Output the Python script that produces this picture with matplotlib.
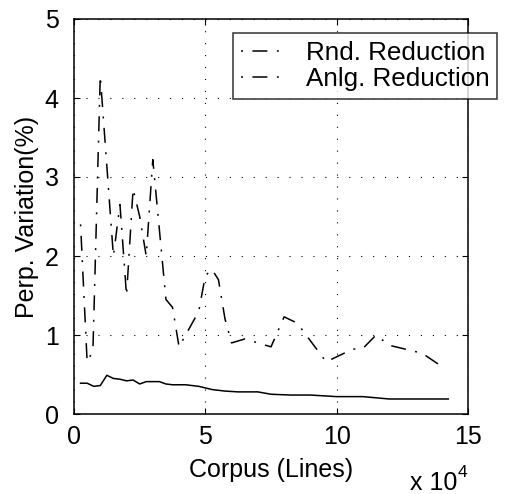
import matplotlib
matplotlib.use("Agg")
import matplotlib.pyplot as plt
from matplotlib.lines import Line2D

plt.rcParams['font.family'] = ['Liberation Sans', 'DejaVu Sans']
plt.rcParams['lines.scale_dashes'] = False

# Data (x in units of 10^4 lines)
rnd_x = [0.25, 0.5, 0.72, 1.0, 1.5, 1.75, 2.0, 2.25, 2.5, 2.75, 3.0, 3.5, 3.75, 4.0,
         4.75, 5.0, 5.25, 5.5, 5.75, 6.0, 6.5, 7.5, 8.0, 8.5, 9.6, 10.6, 11.0, 11.5,
         12.0, 13.25, 14.1]
rnd_y = [2.4, 0.66, 0.8, 4.28, 2.0, 2.65, 1.5, 2.85, 2.5, 2.0, 3.22, 1.45, 1.35, 0.85,
         1.3, 1.75, 1.83, 1.7, 1.2, 0.9, 0.95, 0.85, 1.23, 1.15, 0.66, 0.82, 0.83, 1.0,
         0.87, 0.77, 0.58]

anlg_x = [0.25, 0.5, 0.75, 1.0, 1.25, 1.5, 1.75, 2.0, 2.25, 2.5, 2.75, 3.25, 3.5, 3.75,
          4.25, 4.75, 5.25, 5.75, 6.25, 7.0, 7.5, 8.25, 9.0, 10.0, 11.0, 12.0, 13.0, 14.25]
anlg_y = [0.39, 0.39, 0.35, 0.36, 0.49, 0.45, 0.44, 0.42, 0.43, 0.38, 0.41, 0.41, 0.38,
          0.37, 0.37, 0.35, 0.31, 0.29, 0.28, 0.28, 0.25, 0.24, 0.24, 0.22, 0.22, 0.19,
          0.19, 0.19]

series_labels = ["Rnd. Reduction", "Anlg. Reduction"]
xticks = [0, 5, 10, 15]
yticks = [0, 1, 2, 3, 4, 5]

FS = 18
LFS = 18.7
dashdot = (0, (1.4, 6.8, 10.8, 6.8))

fig = plt.figure(figsize=(5.14, 4.94), dpi=100)
ax = fig.add_axes([74/514, 1-414/494, 394/514, 395/494])

ax.plot(rnd_x, rnd_y, color='black', lw=1.1, linestyle=dashdot)
ax.plot(anlg_x, anlg_y, color='black', lw=1.1, linestyle='-')

ax.set_xlim(0, 15)
ax.set_ylim(0, 5)
ax.set_xticks(xticks)
ax.set_yticks(yticks)
ax.set_xticklabels([str(t) for t in xticks], fontsize=FS)
ax.set_yticklabels([str(t) for t in yticks], fontsize=FS)
ax.tick_params(direction='in', length=4, width=0.8, top=True, right=True)
ax.tick_params(axis='x', pad=8)
ax.tick_params(axis='y', pad=11)
for s in ax.spines.values():
    s.set_linewidth(1.1)
ax.grid(True, color='black', lw=0.8, linestyle=(0, (0.8, 7.8)))

ax.set_xlabel("Corpus (Lines)", fontsize=FS, labelpad=6.5)
ax.set_ylabel("Perp. Variation(%)", fontsize=FS, labelpad=4)

fig.text(410/514, 1-490/494, "x 10", fontsize=FS, va='baseline', ha='left')
fig.text(458/514, 1-477/494, "4", fontsize=FS*0.7, va='baseline', ha='left')

handles = [Line2D([], [], color='black', lw=1.1, linestyle=dashdot),
           Line2D([], [], color='black', lw=1.1, linestyle=dashdot)]
leg = ax.legend(handles, series_labels, loc='upper left',
                bbox_to_anchor=((233-74)/394, (414-33)/395), borderaxespad=0,
                fontsize=LFS, frameon=True, fancybox=False, handlelength=1.6,
                handletextpad=0.9, borderpad=0.3, labelspacing=0.1)
leg.get_frame().set_edgecolor('black')
leg.get_frame().set_linewidth(1.1)
leg.set_zorder(10)

fig.savefig("out.png", dpi=100)
